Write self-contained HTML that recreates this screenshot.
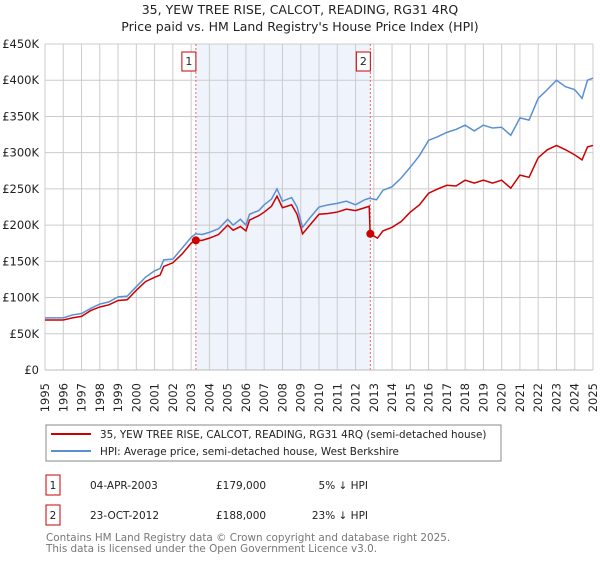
<!DOCTYPE html>
<html><head><meta charset="utf-8"><style>
body{margin:0;background:#fff;font-family:"Liberation Sans","DejaVu Sans",sans-serif}
svg text{font-family:"DejaVu Sans","Liberation Sans",sans-serif}
</style></head><body>
<svg id="chart" width="600" height="560" viewBox="0 0 600 560">
<text x="300" y="14" text-anchor="middle" font-size="12.5" fill="#222">35, YEW TREE RISE, CALCOT, READING, RG31 4RQ</text>
<text x="300" y="31" text-anchor="middle" font-size="12.5" fill="#222">Price paid vs. HM Land Registry's House Price Index (HPI)</text>
<g id="plot"></g>
<g>
<rect x="46" y="425" width="455" height="36" fill="#fff" stroke="#888"/>
<line x1="51" y1="434" x2="91" y2="434" stroke="#cc0000" stroke-width="2"/>
<text x="100" y="438" font-size="10.4" fill="#222">35, YEW TREE RISE, CALCOT, READING, RG31 4RQ (semi-detached house)</text>
<line x1="51" y1="451" x2="91" y2="451" stroke="#5b8fd4" stroke-width="2"/>
<text x="100" y="455" font-size="10.4" fill="#222">HPI: Average price, semi-detached house, West Berkshire</text>
</g>
<g font-size="10.5" fill="#222">
<rect x="46" y="475" width="14" height="20" fill="#fff" stroke="#cc0000"/>
<text x="53" y="489" text-anchor="middle">1</text>
<text x="90" y="489">04-APR-2003</text>
<text x="216" y="489">£179,000</text>
<text x="368" y="489" text-anchor="end">5% ↓ HPI</text>
<rect x="46" y="505" width="14" height="20" fill="#fff" stroke="#cc0000"/>
<text x="53" y="519" text-anchor="middle">2</text>
<text x="90" y="519">23-OCT-2012</text>
<text x="216" y="519">£188,000</text>
<text x="368" y="519" text-anchor="end">23% ↓ HPI</text>
</g>
<text x="46" y="541" font-size="10.4" fill="#777">Contains HM Land Registry data © Crown copyright and database right 2025.</text>
<text x="46" y="552" font-size="10.4" fill="#777">This data is licensed under the Open Government Licence v3.0.</text>
</svg>
<script>
const hpiYears=[1995,1995.5,1996,1996.5,1997,1997.5,1998,1998.5,1999,1999.5,2000,2000.5,2001,2001.3,2001.5,2002,2002.5,2003,2003.25,2003.6,2004,2004.5,2005,2005.3,2005.7,2006,2006.2,2006.7,2007,2007.4,2007.7,2008,2008.5,2008.8,2009.1,2009.5,2010,2010.5,2011,2011.5,2012,2012.5,2012.75,2013.15,2013.5,2014,2014.5,2015,2015.5,2016,2016.5,2017,2017.5,2018,2018.5,2019,2019.5,2020,2020.5,2021,2021.5,2022,2022.5,2023,2023.5,2024,2024.4,2024.7,2025];
const hpiValues=[72,72,72,76,78,85,91,94,101,102,115,128,137,140,152,153,168,183,188,187,190,195,208,200,208,200,215,220,228,236,250,233,238,225,197,210,225,228,230,233,228,235,237,235,248,253,265,280,296,317,322,328,332,338,330,338,334,335,324,348,345,375,387,400,391,387,375,400,403];
const propYears=[1995,1995.5,1996,1996.5,1997,1997.5,1998,1998.5,1999,1999.5,2000,2000.5,2001,2001.3,2001.5,2002,2002.5,2003,2003.25,2003.6,2004,2004.5,2005,2005.3,2005.7,2006,2006.2,2006.7,2007,2007.4,2007.7,2008,2008.5,2008.8,2009.1,2009.5,2010,2010.5,2011,2011.5,2012,2012.5,2012.75,2012.8,2013.2,2013.5,2014,2014.5,2015,2015.5,2016,2016.5,2017,2017.5,2018,2018.5,2019,2019.5,2020,2020.5,2021,2021.5,2022,2022.5,2023,2023.5,2024,2024.4,2024.7,2025];
const propValues=[69,69,69,72,74,82,87,90,96,97,110,122,128,131,143,148,160,175,179,179,182,187,200,193,198,192,207,213,218,226,240,224,228,215,188,200,215,216,218,222,220,224,226,188,182,192,197,205,218,228,244,250,255,254,262,258,262,258,262,251,269,266,293,304,310,304,297,290,308,310];
const saleYears=[2003.26,2012.81];
const saleValues=[179,188];
const yTicks=[0,50,100,150,200,250,300,350,400,450];
const yTickLabels=["£0","£50K","£100K","£150K","£200K","£250K","£300K","£350K","£400K","£450K"];
const xTicks=[1995,1996,1997,1998,1999,2000,2001,2002,2003,2004,2005,2006,2007,2008,2009,2010,2011,2012,2013,2014,2015,2016,2017,2018,2019,2020,2021,2022,2023,2024,2025];

const L=45,R=593,T=44,B=370;
const xs=y=>L+(y-1995)/(2025-1995)*(R-L);
const ys=v=>B-v/450*(B-T);
const NS='http://www.w3.org/2000/svg';
const plot=document.getElementById('plot');
function mk(tag,attrs){const e=document.createElementNS(NS,tag);for(const k in attrs)e.setAttribute(k,attrs[k]);plot.appendChild(e);return e;}

let e=mk('rect',{x:xs(saleYears[0]),y:T,width:xs(saleYears[1])-xs(saleYears[0]),height:B-T,fill:'#eef3fc'});


xTicks.forEach(t=>{
  const g=mk('line',{x1:xs(t),x2:xs(t),y1:T,y2:B,stroke:'#cccccc','stroke-width':1});
  
  
  const lb=mk('text',{x:0,y:0,'font-size':11.5,fill:'#222','text-anchor':'end',transform:`translate(${xs(t)+4},383) rotate(-90)`});
  lb.textContent=t;
  
  
});
yTicks.forEach((t,i)=>{
  const g=mk('line',{x1:L,x2:R,y1:ys(t),y2:ys(t),stroke:'#cccccc','stroke-width':1});
  
  
  const lb=mk('text',{x:39,y:ys(t)+4,'font-size':11.5,fill:'#222','text-anchor':'end'});
  lb.textContent=yTickLabels[i];
  
  
});
saleYears.forEach((s,i)=>{
  const v=mk('line',{x1:xs(s),x2:xs(s),y1:T,y2:B,stroke:'#ee6666','stroke-width':1,'stroke-dasharray':'2,2'});
  
  
  const bx=mk('rect',{x:xs(s)-14,y:52,width:14,height:19,fill:'#fff',stroke:'#cc0000'});
  
  
  const t=mk('text',{x:xs(s)-7,y:65,'font-size':11,fill:'#222','text-anchor':'middle'});
  t.textContent=String(i+1);
  
  
});
const hp=mk('polyline',{points:hpiYears.map((y,i)=>xs(y)+','+ys(hpiValues[i])).join(' '),fill:'none',stroke:'#5b8fd4','stroke-width':1.5});


const pp=mk('polyline',{points:propYears.map((y,i)=>xs(y)+','+ys(propValues[i])).join(' '),fill:'none',stroke:'#cc0000','stroke-width':1.5});


saleYears.forEach((s,i)=>{
  const c=mk('circle',{cx:xs(s),cy:ys(saleValues[i]),r:4,fill:'#cc0000'});
  
  
});
const ax=mk('line',{x1:L,x2:R,y1:B,y2:B,stroke:'#bbb'});


</script>
</body></html>
